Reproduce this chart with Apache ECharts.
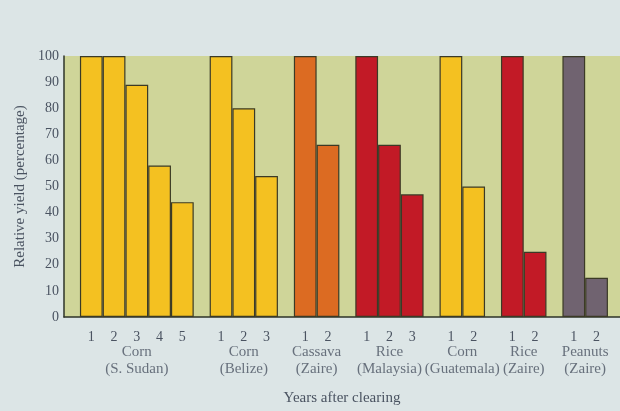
<!DOCTYPE html>
<html>
<head>
<meta charset="utf-8">
<script src="https://cdn.jsdelivr.net/npm/echarts@6/dist/echarts.min.js"></script>
<style>
html,body{margin:0;padding:0;background:#dce5e6;overflow:hidden;}
#c{width:620px;height:411px;}
</style>
</head>
<body>
<div id="c"></div>
<script>
// Data
const groupNames = ['Corn\n(S. Sudan)', 'Corn\n(Belize)', 'Cassava\n(Zaire)', 'Rice\n(Malaysia)', 'Corn\n(Guatemala)', 'Rice\n(Zaire)', 'Peanuts\n(Zaire)'];
const cornSSudan = [100, 100, 89, 58, 44];
const cornBelize = [100, 80, 54];
const cassavaZaire = [100, 66];
const riceMalaysia = [100, 66, 47];
const cornGuatemala = [100, 50];
const riceZaire = [100, 25];
const peanutsZaire = [100, 15];
const yTicks = [0, 10, 20, 30, 40, 50, 60, 70, 80, 90, 100];

const groupValues = [cornSSudan, cornBelize, cassavaZaire, riceMalaysia, cornGuatemala, riceZaire, peanutsZaire];
const cropColors = { Corn: '#f4c121', Cassava: '#dc6b22', Rice: '#c21a26', Peanuts: '#706370' };

const el = document.getElementById('c');
const W = 620;

// Layout in bar-width units
const gapUnits = 0.7;
const endUnits = 0.53;
const gridLeft = 64, gridRight = 0;

const barData = [];
const groupData = [];
let pos = gapUnits;
groupValues.forEach((vals, gi) => {
  const crop = groupNames[gi].split('\n')[0];
  const start = pos;
  vals.forEach((v, i) => {
    barData.push({
      value: [pos + 0.5, v],
      itemStyle: { color: cropColors[crop] },
      label: { formatter: String(i + 1) }
    });
    pos += 1;
  });
  groupData.push({ value: [(start + pos) / 2, 0], name: groupNames[gi] });
  pos += gapUnits;
});
const xMax = pos - gapUnits + endUnits;
const barPx = (W - gridLeft - gridRight) / xMax;

const font = 'Liberation Serif';
const txt = '#4a5361';

const chart = echarts.init(el, null, { renderer: 'canvas' });
chart.setOption({
  backgroundColor: '#dce5e6',
  animation: false,
  grid: {
    left: gridLeft, right: gridRight, top: 56, height: 268,
    show: true, backgroundColor: '#cfd599', borderWidth: 0
  },
  xAxis: {
    type: 'value', min: 0, max: xMax,
    name: 'Years after clearing', nameLocation: 'middle', nameGap: 74,
    nameTextStyle: { fontFamily: font, fontSize: 15, color: txt },
    axisLine: { show: true, lineStyle: { color: '#2e3328', width: 1.5 } },
    axisTick: { show: false }, axisLabel: { show: false }, splitLine: { show: false }
  },
  yAxis: {
    type: 'value', min: 0, max: 100, interval: 10,
    name: 'Relative yield (percentage)', nameLocation: 'middle', nameGap: 36,
    nameTextStyle: { fontFamily: font, fontSize: 15, color: txt },
    axisLine: { show: true, lineStyle: { color: '#2e3328', width: 1.5 } },
    axisTick: { show: false },
    axisLabel: {
      fontFamily: font, fontSize: 14, color: txt, margin: 5,
      formatter: v => yTicks.includes(v) ? String(v) : ''
    },
    splitLine: { show: false }
  },
  series: [
    {
      type: 'bar',
      data: barData,
      barWidth: barPx,
      itemStyle: { borderColor: '#3b3a26', borderWidth: 1.2 },
      label: {
        show: true, position: 'bottom', distance: 13,
        fontFamily: font, fontSize: 14, color: txt
      }
    },
    {
      type: 'scatter',
      data: groupData,
      symbolSize: 0,
      clip: false,
      label: {
        show: true, position: 'bottom', distance: 27,
        formatter: p => p.name,
        fontFamily: font, fontSize: 15, color: txt, lineHeight: 17, align: 'center'
      }
    }
  ]
});
</script>
</body>
</html>
